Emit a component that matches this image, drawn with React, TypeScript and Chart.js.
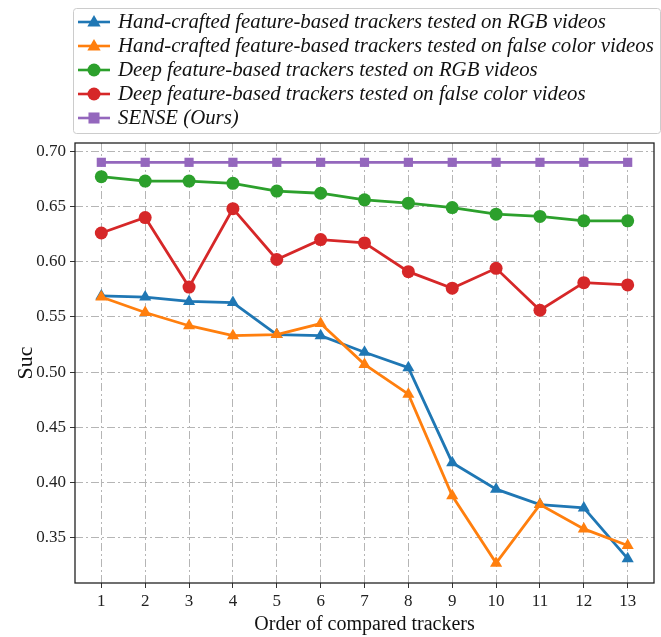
import React, { useEffect, useRef } from "react";
import { Chart, registerables } from "chart.js";

Chart.register(...registerables);

const xValues = [1, 2, 3, 4, 5, 6, 7, 8, 9, 10, 11, 12, 13];
const xTicks = [1, 2, 3, 4, 5, 6, 7, 8, 9, 10, 11, 12, 13];
const yTicks = [0.35, 0.4, 0.45, 0.5, 0.55, 0.6, 0.65, 0.7];

const handRGB = [0.569, 0.568, 0.564, 0.563, 0.534, 0.533, 0.518, 0.504, 0.418, 0.394, 0.380, 0.377, 0.331];
const handFalse = [0.568, 0.554, 0.542, 0.533, 0.534, 0.544, 0.507, 0.480, 0.388, 0.327, 0.380, 0.358, 0.343];
const deepRGB = [0.677, 0.673, 0.673, 0.671, 0.664, 0.662, 0.656, 0.653, 0.649, 0.643, 0.641, 0.637, 0.637];
const deepFalse = [0.626, 0.640, 0.577, 0.648, 0.602, 0.620, 0.617, 0.591, 0.576, 0.594, 0.556, 0.581, 0.579];
const sense = [0.69, 0.69, 0.69, 0.69, 0.69, 0.69, 0.69, 0.69, 0.69, 0.69, 0.69, 0.69, 0.69];

const seriesLabels = [
  "Hand-crafted feature-based trackers tested on RGB videos",
  "Hand-crafted feature-based trackers tested on false color videos",
  "Deep feature-based trackers tested on RGB videos",
  "Deep feature-based trackers tested on false color videos",
  "SENSE (Ours)",
];
const seriesData = [handRGB, handFalse, deepRGB, deepFalse, sense];
const seriesColors = ["#1f77b4", "#ff7f0e", "#2ca02c", "#d62728", "#9467bd"];
const seriesMarkers = ["triangle", "triangle", "circle", "circle", "rect"];
const markerRadius = [7, 7, 6.5, 6.5, 6.5];

const SERIF = "'Liberation Serif', 'Times New Roman', serif";

function drawMarker(ctx: CanvasRenderingContext2D, style: string, x: number, y: number, r: number, color: string) {
  ctx.save();
  ctx.fillStyle = color;
  ctx.beginPath();
  if (style === "circle") {
    ctx.arc(x, y, r, 0, Math.PI * 2);
  } else if (style === "rect") {
    const s = r * 0.85;
    ctx.rect(x - s, y - s, 2 * s, 2 * s);
  } else {
    ctx.moveTo(x, y - r);
    ctx.lineTo(x + r * 0.95, y + r * 0.65);
    ctx.lineTo(x - r * 0.95, y + r * 0.65);
    ctx.closePath();
  }
  ctx.fill();
  ctx.restore();
}

const framePlugin = {
  id: "frame",
  afterDatasetsDraw(chart: any) {
    const { ctx, chartArea } = chart;
    ctx.save();
    ctx.strokeStyle = "#222";
    ctx.lineWidth = 1.3;
    ctx.strokeRect(chartArea.left, chartArea.top, chartArea.right - chartArea.left, chartArea.bottom - chartArea.top);
    ctx.restore();
  },
};

const legendPlugin = {
  id: "customLegend",
  afterDraw(chart: any) {
    const ctx: CanvasRenderingContext2D = chart.ctx;
    ctx.save();
    const bx = 73.5, by = 8.5, bw = 587, bh = 125;
    ctx.fillStyle = "rgba(255,255,255,0.9)";
    ctx.strokeStyle = "#cccccc";
    ctx.lineWidth = 1;
    ctx.beginPath();
    (ctx as any).roundRect(bx, by, bw, bh, 3);
    ctx.fill();
    ctx.stroke();
    ctx.font = `italic 20.8px ${SERIF}`;
    ctx.textBaseline = "middle";
    ctx.textAlign = "left";
    for (let i = 0; i < seriesLabels.length; i++) {
      const y = 22 + i * 24;
      ctx.strokeStyle = seriesColors[i];
      ctx.lineWidth = 2.6;
      ctx.beginPath();
      ctx.moveTo(78, y);
      ctx.lineTo(110, y);
      ctx.stroke();
      drawMarker(ctx, seriesMarkers[i], 94, y, markerRadius[i], seriesColors[i]);
      ctx.fillStyle = "#111";
      ctx.fillText(seriesLabels[i], 118, y + 1);
    }
    ctx.restore();
  },
};

export default function App() {
  const ref = useRef<HTMLCanvasElement>(null);
  useEffect(() => {
    if (!ref.current) return;
    const datasets = seriesLabels.map((label, i) => ({
      label,
      data: xValues.map((x, j) => ({ x, y: seriesData[i][j] })),
      borderColor: seriesColors[i],
      backgroundColor: seriesColors[i],
      borderWidth: 2.8,
      pointStyle: seriesMarkers[i],
      pointRadius: markerRadius[i],
      pointBorderWidth: 0,
      pointBackgroundColor: seriesColors[i],
      tension: 0,
      order: 5 - i,
    }));
    const chart = new Chart(ref.current, {
      type: "line",
      data: { datasets },
      options: {
        animation: false,
        responsive: false,
        maintainAspectRatio: false,
        layout: { padding: { top: 143, right: 4, left: 0, bottom: 0 } },
        plugins: { legend: { display: false }, tooltip: { enabled: false } },
        scales: {
          x: {
            type: "linear",
            min: 0.4,
            max: 13.6,
            afterBuildTicks: (s: any) => {
              s.ticks = xTicks.map((v) => ({ value: v }));
            },
            afterFit: (s: any) => {
              s.height = 54;
            },
            ticks: {
              color: "#222",
              font: { family: SERIF, size: 17 },
              padding: 3,
              maxRotation: 0,
              callback: (v: any) => String(v),
            },
            grid: {
              color: "#b5b5b5",
              lineWidth: 1,
              tickLength: 5,
              tickColor: "#333",
              tickBorderDash: [],
            },
            border: { display: false, dash: [8, 3, 2, 3] },
            title: {
              display: true,
              text: "Order of compared trackers",
              color: "#111",
              font: { family: SERIF, size: 20 },
              padding: { top: 0, bottom: 0 },
            },
          },
          y: {
            type: "linear",
            min: 0.309,
            max: 0.7075,
            afterBuildTicks: (s: any) => {
              s.ticks = yTicks.map((v) => ({ value: v }));
            },
            afterFit: (s: any) => {
              s.width = 75;
            },
            ticks: {
              color: "#222",
              font: { family: SERIF, size: 17 },
              padding: 4,
              callback: (v: any) => Number(v).toFixed(2),
            },
            grid: {
              color: "#b5b5b5",
              lineWidth: 1,
              tickLength: 5,
              tickColor: "#333",
              tickBorderDash: [],
            },
            border: { display: false, dash: [8, 3, 2, 3] },
            title: {
              display: true,
              text: "Suc",
              color: "#111",
              font: { family: SERIF, size: 22 },
              padding: { top: 13, bottom: 0 },
            },
          },
        },
      },
      plugins: [framePlugin, legendPlugin],
    } as any);
    return () => chart.destroy();
  }, []);
  return (
    <div style={{ position: "fixed", left: 0, top: 0, width: 661, height: 637, background: "#fff" }}>
      <canvas ref={ref} width={661} height={637} style={{ width: 661, height: 637, display: "block" }} />
    </div>
  );
}
